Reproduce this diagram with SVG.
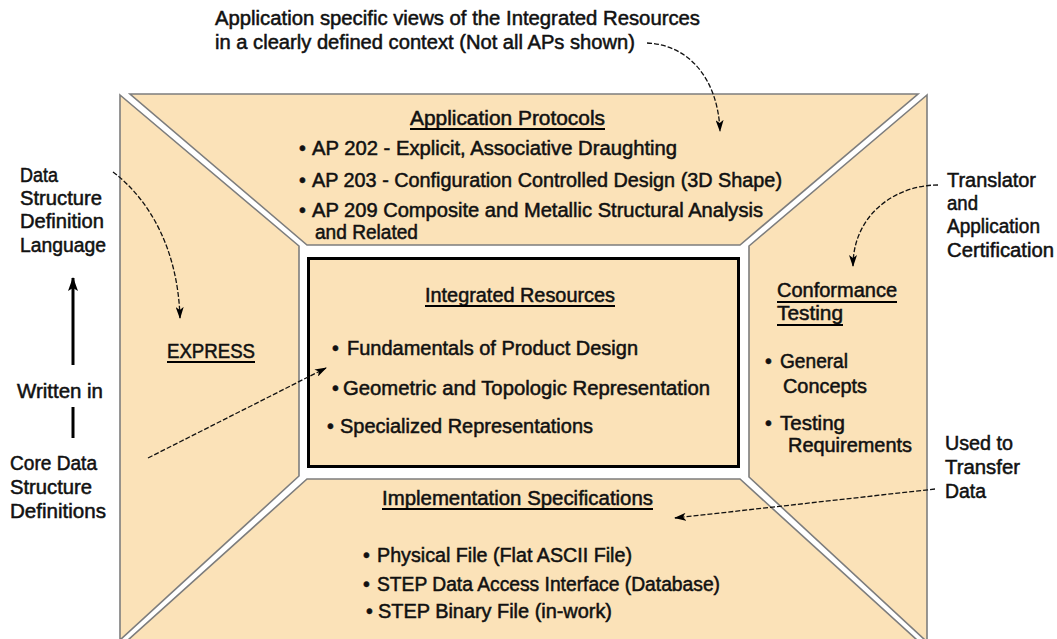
<svg xmlns="http://www.w3.org/2000/svg" width="1057" height="639" viewBox="0 0 1057 639">
<style>
text{font-family:"Liberation Sans",Arial,sans-serif;font-size:19.5px;fill:#111;stroke:#111;stroke-width:0.5px;}
.trap{fill:#FBE2B8;stroke:#7d7d7d;stroke-width:1.6;stroke-linejoin:miter;}
.ul{stroke:#000;stroke-width:2;}
.dash{fill:none;stroke:#111;stroke-width:1.3;stroke-dasharray:5 2;}
.solid{fill:none;stroke:#000;stroke-width:3;}
</style>
<defs>
<marker id="ah" viewBox="0 0 12 8" refX="11" refY="4" markerWidth="12" markerHeight="8" markerUnits="userSpaceOnUse" orient="auto">
<path d="M0,0 L12,4 L0,8 L3,4 z" fill="#000"/>
</marker>
<marker id="ahb" viewBox="0 0 14 10" refX="13" refY="5" markerWidth="14" markerHeight="10" markerUnits="userSpaceOnUse" orient="auto">
<path d="M0,0 L14,5 L0,10 L3,5 z" fill="#000"/>
</marker>
</defs>
<rect width="1057" height="639" fill="#fff"/>

<g id="frame-left"><polygon class="trap" points="120,95 299,246 299,476 120,640"/>
<text x="167" y="358" textLength="88" lengthAdjust="spacingAndGlyphs">EXPRESS</text><line class="ul" x1="167" y1="362" x2="255" y2="362"/></g>

<g id="frame-top"><polygon class="trap" points="130,94 918,94 740,245 307,245"/>
<text x="410" y="125" textLength="195" lengthAdjust="spacingAndGlyphs">Application Protocols</text>
<line class="ul" x1="410" y1="129" x2="605" y2="129"/>
<text x="299" y="155">•</text><text x="312" y="155" textLength="365" lengthAdjust="spacingAndGlyphs">AP 202 - Explicit, Associative Draughting</text>
<text x="299" y="187">•</text><text x="312" y="187" textLength="470" lengthAdjust="spacingAndGlyphs">AP 203 - Configuration Controlled Design (3D Shape)</text>
<text x="299" y="217">•</text><text x="312" y="217" textLength="451" lengthAdjust="spacingAndGlyphs">AP 209 Composite and Metallic Structural Analysis</text>
<text x="315" y="239" textLength="103" lengthAdjust="spacingAndGlyphs">and Related</text></g>

<g id="frame-right"><polygon class="trap" points="927,95 749,246 749,477 925,640 927,640"/>
<text x="777" y="297" textLength="120" lengthAdjust="spacingAndGlyphs">Conformance</text><line class="ul" x1="777" y1="302" x2="897" y2="302"/>
<text x="777" y="320" textLength="66" lengthAdjust="spacingAndGlyphs">Testing</text><line class="ul" x1="777" y1="325" x2="843" y2="325"/>
<text x="765" y="368">•</text><text x="780" y="368" textLength="68" lengthAdjust="spacingAndGlyphs">General</text>
<text x="783" y="393" textLength="84" lengthAdjust="spacingAndGlyphs">Concepts</text>
<text x="765" y="430">•</text><text x="780" y="430" textLength="65" lengthAdjust="spacingAndGlyphs">Testing</text>
<text x="788" y="452" textLength="124" lengthAdjust="spacingAndGlyphs">Requirements</text></g>

<g id="frame-bottom"><polygon class="trap" points="307,479 740,479 917,640 128,640"/>
<text x="382" y="505" textLength="271" lengthAdjust="spacingAndGlyphs">Implementation Specifications</text>
<line class="ul" x1="382" y1="509" x2="653" y2="509"/>
<text x="363" y="562">•</text><text x="377" y="562" textLength="255" lengthAdjust="spacingAndGlyphs">Physical File (Flat ASCII File)</text>
<text x="363" y="591">•</text><text x="377" y="591" textLength="343" lengthAdjust="spacingAndGlyphs">STEP Data Access Interface (Database)</text>
<text x="366" y="618">•</text><text x="378" y="618" textLength="234" lengthAdjust="spacingAndGlyphs">STEP Binary File (in-work)</text></g>

<g id="integrated-resources"><rect x="308.5" y="258.5" width="430" height="208" fill="#FBE2B8" stroke="#000" stroke-width="3"/>
<text x="425" y="302" textLength="190" lengthAdjust="spacingAndGlyphs">Integrated Resources</text>
<line class="ul" x1="425" y1="306" x2="615" y2="306"/>
<text x="332" y="355">•</text><text x="347" y="355" textLength="291" lengthAdjust="spacingAndGlyphs">Fundamentals of Product Design</text>
<text x="332" y="395">•</text><text x="343" y="395" textLength="367" lengthAdjust="spacingAndGlyphs">Geometric and Topologic Representation</text>
<text x="327" y="433">•</text><text x="340" y="433" textLength="253" lengthAdjust="spacingAndGlyphs">Specialized Representations</text></g>

<g id="note-top"><text x="215" y="25" textLength="485" lengthAdjust="spacingAndGlyphs">Application specific views of the Integrated Resources</text>
<text x="215" y="49" textLength="420" lengthAdjust="spacingAndGlyphs">in a clearly defined context (Not all APs shown)</text></g>

<g id="note-ddl"><text x="20" y="182" textLength="38" lengthAdjust="spacingAndGlyphs">Data</text><text x="20" y="205" textLength="82" lengthAdjust="spacingAndGlyphs">Structure</text>
<text x="20" y="228" textLength="84" lengthAdjust="spacingAndGlyphs">Definition</text><text x="20" y="252" textLength="86" lengthAdjust="spacingAndGlyphs">Language</text></g>
<g id="note-written"><text x="17" y="398" textLength="86" lengthAdjust="spacingAndGlyphs">Written in</text></g>
<g id="note-core"><text x="10" y="470" textLength="87" lengthAdjust="spacingAndGlyphs">Core Data</text><text x="10" y="494" textLength="82" lengthAdjust="spacingAndGlyphs">Structure</text>
<text x="10" y="518" textLength="96" lengthAdjust="spacingAndGlyphs">Definitions</text></g>
<g id="note-translator"><text x="947" y="187" textLength="89" lengthAdjust="spacingAndGlyphs">Translator</text><text x="947" y="210" textLength="31" lengthAdjust="spacingAndGlyphs">and</text>
<text x="947" y="233" textLength="93" lengthAdjust="spacingAndGlyphs">Application</text><text x="947" y="257" textLength="107" lengthAdjust="spacingAndGlyphs">Certification</text></g>
<g id="note-used"><text x="945" y="450" textLength="68" lengthAdjust="spacingAndGlyphs">Used to</text><text x="945" y="474" textLength="75" lengthAdjust="spacingAndGlyphs">Transfer</text><text x="945" y="498" textLength="41" lengthAdjust="spacingAndGlyphs">Data</text></g>

<g id="connectors">
<path class="dash" d="M647,43 C690,45 718,80 720,131" marker-end="url(#ah)"/>
<path class="dash" d="M113,172 C150,200 178,250 180,318" marker-end="url(#ah)"/>
<path class="dash" d="M148,458 L326,368" marker-end="url(#ah)"/>
<path class="dash" d="M938,185 C895,185 853,215 853,266" marker-end="url(#ah)"/>
<path class="dash" d="M935,489 L675,518" marker-end="url(#ah)"/>
<path class="solid" d="M73,365 L73,278" marker-end="url(#ahb)"/>
<path class="solid" d="M73,407 L73,438"/>
</g>
</svg>
